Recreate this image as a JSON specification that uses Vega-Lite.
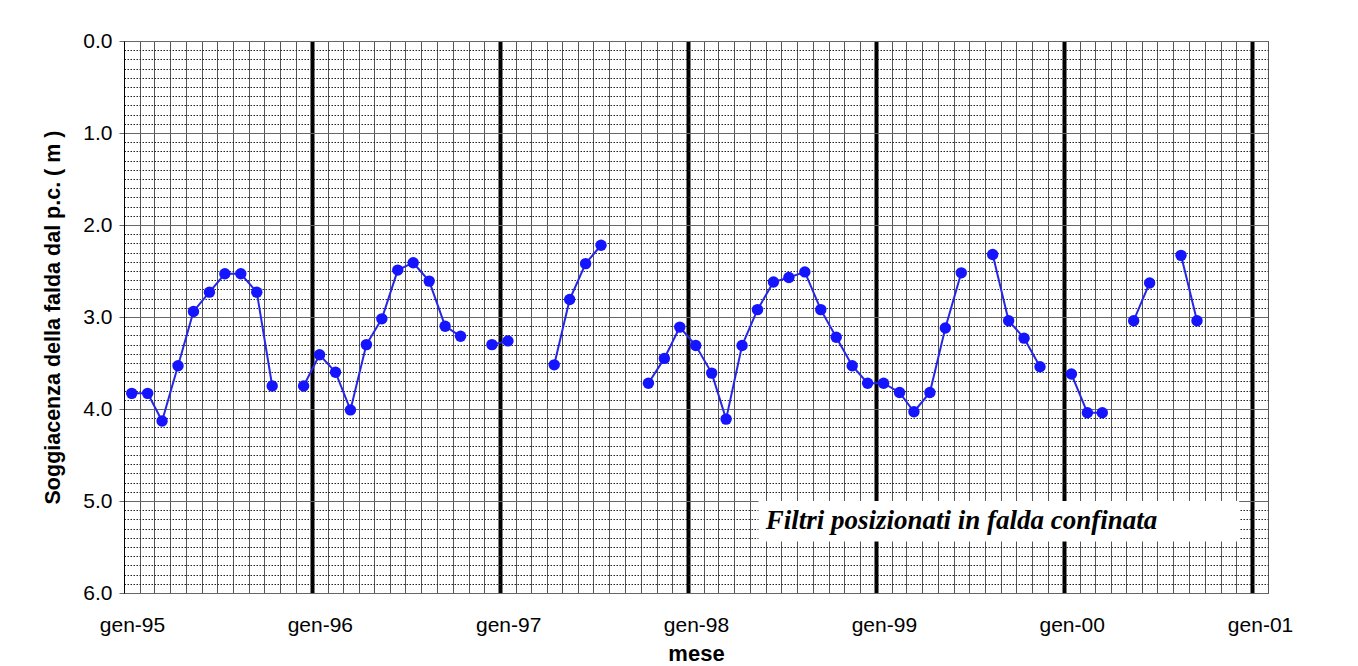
{
  "$schema": "https://vega.github.io/schema/vega-lite/v6.json",
  "autosize": {"type": "none"},
  "padding": {"left": 124, "top": 41, "right": 90, "bottom": 73},
  "width": 1144,
  "height": 552,
  "background": "white",
  "config": {
    "view": {"stroke": "#333333", "strokeDash": [2, 1], "strokeWidth": 1},
    "font": "Liberation Sans"
  },
  "data": {
    "values": [
      {"mese": "1995-01-16T00:00:00", "livello": 3.83},
      {"mese": "1995-02-16T00:00:00", "livello": 3.83},
      {"mese": "1995-03-16T00:00:00", "livello": 4.13},
      {"mese": "1995-04-16T00:00:00", "livello": 3.53},
      {"mese": "1995-05-16T00:00:00", "livello": 2.94},
      {"mese": "1995-06-16T00:00:00", "livello": 2.73},
      {"mese": "1995-07-16T00:00:00", "livello": 2.53},
      {"mese": "1995-08-16T00:00:00", "livello": 2.53},
      {"mese": "1995-09-16T00:00:00", "livello": 2.73},
      {"mese": "1995-10-16T00:00:00", "livello": 3.75},
      {"mese": "1995-11-16T00:00:00", "livello": null},
      {"mese": "1995-12-16T00:00:00", "livello": 3.75},
      {"mese": "1996-01-16T00:00:00", "livello": 3.41},
      {"mese": "1996-02-16T00:00:00", "livello": 3.60},
      {"mese": "1996-03-16T00:00:00", "livello": 4.01},
      {"mese": "1996-04-16T00:00:00", "livello": 3.30},
      {"mese": "1996-05-16T00:00:00", "livello": 3.02},
      {"mese": "1996-06-16T00:00:00", "livello": 2.49},
      {"mese": "1996-07-16T00:00:00", "livello": 2.41},
      {"mese": "1996-08-16T00:00:00", "livello": 2.61},
      {"mese": "1996-09-16T00:00:00", "livello": 3.10},
      {"mese": "1996-10-16T00:00:00", "livello": 3.21},
      {"mese": "1996-11-16T00:00:00", "livello": null},
      {"mese": "1996-12-16T00:00:00", "livello": 3.30},
      {"mese": "1997-01-16T00:00:00", "livello": 3.26},
      {"mese": "1997-02-16T00:00:00", "livello": null},
      {"mese": "1997-03-16T00:00:00", "livello": null},
      {"mese": "1997-04-16T00:00:00", "livello": 3.52},
      {"mese": "1997-05-16T00:00:00", "livello": 2.81},
      {"mese": "1997-06-16T00:00:00", "livello": 2.42},
      {"mese": "1997-07-16T00:00:00", "livello": 2.22},
      {"mese": "1997-08-16T00:00:00", "livello": null},
      {"mese": "1997-09-16T00:00:00", "livello": null},
      {"mese": "1997-10-16T00:00:00", "livello": 3.72},
      {"mese": "1997-11-16T00:00:00", "livello": 3.45},
      {"mese": "1997-12-16T00:00:00", "livello": 3.11},
      {"mese": "1998-01-16T00:00:00", "livello": 3.31},
      {"mese": "1998-02-16T00:00:00", "livello": 3.61},
      {"mese": "1998-03-16T00:00:00", "livello": 4.11},
      {"mese": "1998-04-16T00:00:00", "livello": 3.31},
      {"mese": "1998-05-16T00:00:00", "livello": 2.92},
      {"mese": "1998-06-16T00:00:00", "livello": 2.62},
      {"mese": "1998-07-16T00:00:00", "livello": 2.57},
      {"mese": "1998-08-16T00:00:00", "livello": 2.51},
      {"mese": "1998-09-16T00:00:00", "livello": 2.92},
      {"mese": "1998-10-16T00:00:00", "livello": 3.22},
      {"mese": "1998-11-16T00:00:00", "livello": 3.53},
      {"mese": "1998-12-16T00:00:00", "livello": 3.72},
      {"mese": "1999-01-16T00:00:00", "livello": 3.72},
      {"mese": "1999-02-16T00:00:00", "livello": 3.82},
      {"mese": "1999-03-16T00:00:00", "livello": 4.03},
      {"mese": "1999-04-16T00:00:00", "livello": 3.82},
      {"mese": "1999-05-16T00:00:00", "livello": 3.12},
      {"mese": "1999-06-16T00:00:00", "livello": 2.52},
      {"mese": "1999-07-16T00:00:00", "livello": null},
      {"mese": "1999-08-16T00:00:00", "livello": 2.32},
      {"mese": "1999-09-16T00:00:00", "livello": 3.04},
      {"mese": "1999-10-16T00:00:00", "livello": 3.23},
      {"mese": "1999-11-16T00:00:00", "livello": 3.54},
      {"mese": "1999-12-16T00:00:00", "livello": null},
      {"mese": "2000-01-16T00:00:00", "livello": 3.62},
      {"mese": "2000-02-16T00:00:00", "livello": 4.04},
      {"mese": "2000-03-16T00:00:00", "livello": 4.04},
      {"mese": "2000-04-16T00:00:00", "livello": null},
      {"mese": "2000-05-16T00:00:00", "livello": 3.04},
      {"mese": "2000-06-16T00:00:00", "livello": 2.63},
      {"mese": "2000-07-16T00:00:00", "livello": null},
      {"mese": "2000-08-16T00:00:00", "livello": 2.33},
      {"mese": "2000-09-16T00:00:00", "livello": 3.04}
    ]
  },
  "layer": [
    {
      "mark": {"type": "line", "color": "#2626e6", "strokeWidth": 2},
      "encoding": {
        "x": {
          "field": "mese",
          "type": "temporal",
          "scale": {"domain": [{"year": 1995, "month": 1, "date": 1}, {"year": 2001, "month": 2, "date": 1}], "nice": false},
          "axis": {
            "title": "mese",
            "titleFont": "Liberation Sans",
            "titleFontSize": 22,
            "titleFontWeight": "bold",
            "titleColor": "black",
            "titleY": 67,
            "titleBaseline": "alphabetic",
            "tickCount": {"interval": "month", "step": 1},
            "labelExpr": "month(datum.value) == 0 ? 'gen-' + timeFormat(datum.value, '%y') : ''",
            "labelOverlap": false,
            "labelFlush": false,
            "labelFont": "Liberation Sans",
            "labelFontSize": 21,
            "labelColor": "black",
            "labelPadding": 21,
            "labelOffset": 8,
            "ticks": false,
            "domain": true,
            "domainColor": "#666666",
            "grid": true,
            "gridColor": {"condition": {"test": "month(datum.value) == 0 && year(datum.value) > 1995", "value": "#000000"}, "value": "#555555"},
            "gridWidth": {"condition": {"test": "month(datum.value) == 0 && year(datum.value) > 1995", "value": 4}, "value": 1},
            "gridOpacity": 1
          }
        },
        "y": {
          "field": "livello",
          "type": "quantitative",
          "scale": {"domain": [0, 6], "reverse": true, "nice": false, "zero": false},
          "axis": {
            "title": "Soggiacenza della falda dal p.c. ( m )",
            "titleFont": "Liberation Sans",
            "titleFontSize": 21.5,
            "titleFontWeight": "bold",
            "titleColor": "black",
            "titleAngle": 270,
            "titleX": -71,
            "titleY": 276,
            "titleAlign": "center",
            "titleBaseline": "middle",
            "tickCount": 61,
            "values": [0, 0.1, 0.2, 0.3, 0.4, 0.5, 0.6, 0.7, 0.8, 0.9, 1, 1.1, 1.2, 1.3, 1.4, 1.5, 1.6, 1.7, 1.8, 1.9, 2, 2.1, 2.2, 2.3, 2.4, 2.5, 2.6, 2.7, 2.8, 2.9, 3, 3.1, 3.2, 3.3, 3.4, 3.5, 3.6, 3.7, 3.8, 3.9, 4, 4.1, 4.2, 4.3, 4.4, 4.5, 4.6, 4.7, 4.8, 4.9, 5, 5.1, 5.2, 5.3, 5.4, 5.5, 5.6, 5.7, 5.8, 5.9, 6],
            "labelExpr": "abs(datum.value - round(datum.value)) < 0.001 ? format(datum.value, '.1f') : ''",
            "labelOverlap": false,
            "labelFont": "Liberation Sans",
            "labelFontSize": 21,
            "labelColor": "black",
            "labelPadding": 7,
            "tickSize": 5,
            "tickColor": "#666666",
            "tickOpacity": {"condition": {"test": "abs(datum.value - round(datum.value)) < 0.001", "value": 1}, "value": 0},
            "domainColor": "#000000",
            "domainWidth": 1,
            "grid": true,
            "gridColor": {"condition": {"test": "abs(datum.value - round(datum.value)) < 0.001", "value": "#666666"}, "value": "#222222"},
            "gridDash": {"condition": {"test": "abs(datum.value - round(datum.value)) < 0.001", "value": []}, "value": [1.5, 1.5]},
            "gridWidth": 1,
            "gridOpacity": 1
          }
        }
      }
    },
    {
      "mark": {"type": "point", "filled": true, "color": "#1414ff", "size": 130, "opacity": 1},
      "encoding": {
        "x": {"field": "mese", "type": "temporal"},
        "y": {"field": "livello", "type": "quantitative"}
      }
    },
    {
      "data": {"values": [{"inizio": "1998-05-18T00:00:00", "fine": "2000-12-07T00:00:00", "alto": 5.0, "basso": 5.44}]},
      "mark": {"type": "rect", "color": "white", "opacity": 1},
      "encoding": {
        "x": {"field": "inizio", "type": "temporal"},
        "x2": {"field": "fine"},
        "y": {"field": "alto", "type": "quantitative"},
        "y2": {"field": "basso"}
      }
    },
    {
      "data": {"values": [{"mese": "1998-06-01T00:00:00", "livello": 5.22, "nota": "Filtri posizionati in falda confinata"}]},
      "mark": {"type": "text", "align": "left", "baseline": "middle", "font": "Liberation Serif", "fontSize": 27, "fontStyle": "italic", "fontWeight": "bold", "color": "black"},
      "encoding": {
        "x": {"field": "mese", "type": "temporal"},
        "y": {"field": "livello", "type": "quantitative"},
        "text": {"field": "nota"}
      }
    }
  ]
}
